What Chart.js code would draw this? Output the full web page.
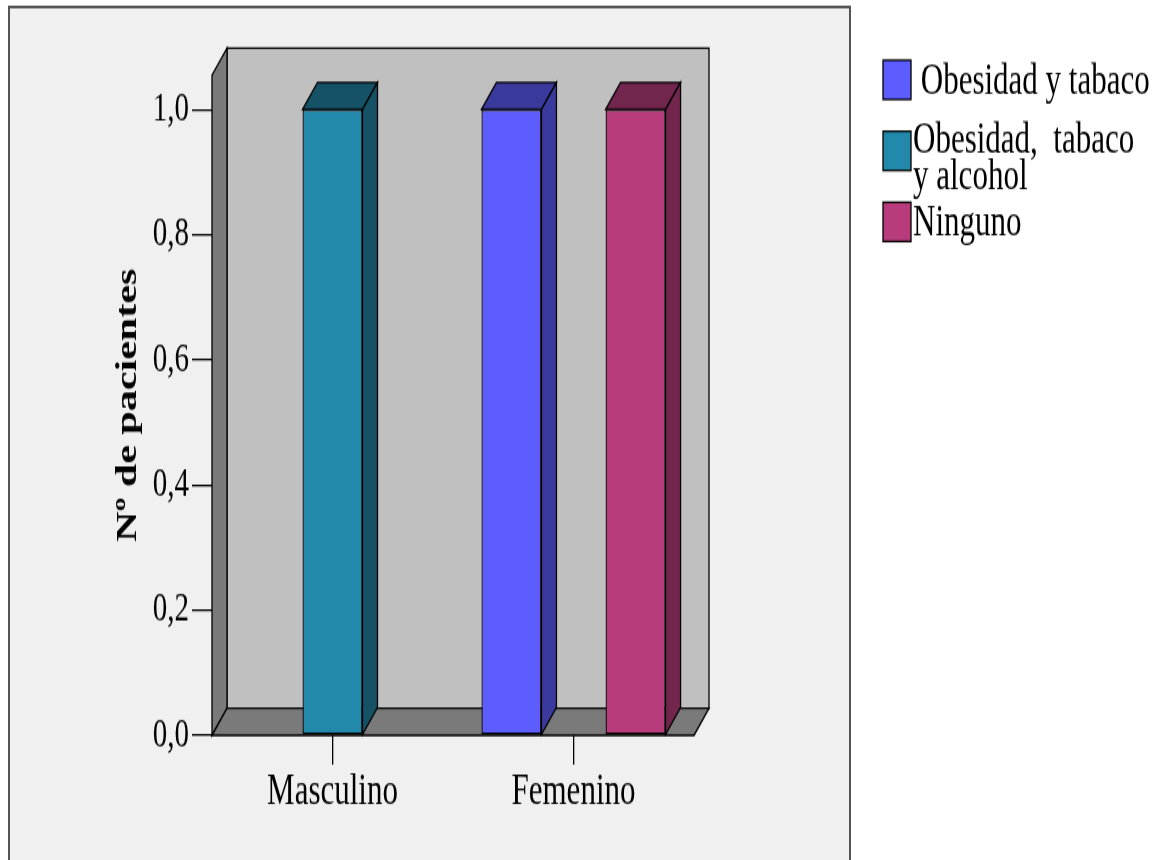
<!DOCTYPE html>
<html>
<head>
<meta charset="utf-8">
<script src="https://cdn.jsdelivr.net/npm/chart.js@4/dist/chart.umd.min.js"></script>
<style>
  html, body { margin: 0; padding: 0; background: #fff; }
  /* the drawing buffer is 614 px high and shown 860 px high: stretched vertically like the exported SPSS figure */
  #grafico { display: block; width: 1167px; height: 860px; }
</style>
</head>
<body>
<canvas id="grafico" width="1167" height="614" style="width:1167px;height:860px"></canvas>
<script>
// datos
const categorias = ['Masculino', 'Femenino'];
const obesidadTabaco = [null, 1];
const obesidadTabacoAlcohol = [1, null];
const ninguno = [null, 1];
const nombresSeries = [' Obesidad y tabaco', 'Obesidad,  tabaco\ny alcohol', 'Ninguno'];
const marcasY = [0, 0.2, 0.4, 0.6, 0.8, 1.0];

// estilo
const fuente = 'Liberation Serif';
const colorFrente = ['#5c5cff', '#2389aa', '#b83c7c'];
const colorLado = ['#3a3a9c', '#165266', '#72264e'];
const DX = 15, DY = 19.3;   // profundidad 3D

function poligono(ctx, pts, relleno) {
  ctx.beginPath();
  ctx.moveTo(pts[0][0], pts[0][1]);
  for (let i = 1; i < pts.length; i++) ctx.lineTo(pts[i][0], pts[i][1]);
  ctx.closePath();
  ctx.fillStyle = relleno;
  ctx.fill();
  ctx.stroke();
}

const caja3d = {
  id: 'caja3d',
  beforeDraw(chart) {
    const ctx = chart.ctx;
    ctx.save();
    ctx.fillStyle = '#fff';
    ctx.fillRect(0, 0, chart.width, chart.height);
    ctx.fillStyle = '#f0f0f0';
    ctx.fillRect(9, 5, 841, chart.height);
    ctx.strokeStyle = '#555';
    ctx.lineWidth = 2;
    ctx.strokeRect(9, 5, 841, chart.height + 10);
    ctx.restore();
  },
  beforeDatasetsDraw(chart) {
    const {ctx, chartArea: a} = chart;
    ctx.save();
    ctx.lineWidth = 1.3;
    ctx.strokeStyle = '#000';
    // pared del fondo
    poligono(ctx, [[a.left + DX, a.top - DY], [a.right + DX, a.top - DY],
                   [a.right + DX, a.bottom - DY], [a.left + DX, a.bottom - DY]], '#c0c0c0');
    // pared izquierda
    poligono(ctx, [[a.left, a.top], [a.left + DX, a.top - DY],
                   [a.left + DX, a.bottom - DY], [a.left, a.bottom]], '#7a7a7a');
    // suelo
    poligono(ctx, [[a.left, a.bottom], [a.left + DX, a.bottom - DY],
                   [a.right + DX, a.bottom - DY], [a.right, a.bottom]], '#7a7a7a');
    ctx.restore();
  },
  afterDatasetsDraw(chart) {
    const ctx = chart.ctx;
    ctx.save();
    ctx.lineWidth = 1.3;
    ctx.strokeStyle = '#000';
    chart.getSortedVisibleDatasetMetas().forEach(meta => {
      const ds = chart.data.datasets[meta.index];
      meta.data.forEach((barra, i) => {
        if (ds.data[i] === null) return;
        const {x, y, base, width} = barra.getProps(['x', 'y', 'base', 'width'], true);
        const l = x - width / 2, r = x + width / 2;
        // cara superior y lateral
        poligono(ctx, [[l, y], [l + DX, y - DY], [r + DX, y - DY], [r, y]], colorLado[meta.index]);
        poligono(ctx, [[r, y], [r + DX, y - DY], [r + DX, base - DY], [r, base]], colorLado[meta.index]);
      });
    });
    ctx.restore();
  },
  afterDraw(chart) {
    // leyenda a la derecha, fuera del marco
    const ctx = chart.ctx;
    ctx.save();
    ctx.font = '31px "' + fuente + '"';
    ctx.textBaseline = 'middle';
    ctx.lineWidth = 1.3;
    ctx.strokeStyle = '#000';
    chart.data.datasets.forEach((ds, i) => {
      const top = 43 + i * 50.7;
      ctx.fillStyle = ds.backgroundColor;
      ctx.fillRect(883, top, 28, 28);
      ctx.strokeRect(883, top, 28, 28);
      const lineas = ds.label.split('\n');
      const medio = top + 15.5 - (lineas.length - 1) * 8.5;
      ctx.fillStyle = '#000';
      lineas.forEach((t, j) => ctx.fillText(t, 913, medio + j * 26.5));
    });
    ctx.restore();
  }
};

const series = [obesidadTabaco, obesidadTabacoAlcohol, ninguno];

const config = {
  type: 'bar',
  data: {
    labels: categorias,
    datasets: series.map((d, i) => ({
      label: nombresSeries[i],
      data: d,
      backgroundColor: colorFrente[i],
      borderColor: '#000',
      borderWidth: 1.3,
      borderSkipped: false,
      skipNull: true,
      categoryPercentage: 1.03,
      barPercentage: 0.5,
      maxBarThickness: 60
    }))
  },
  options: {
    responsive: false,
    animation: false,
    devicePixelRatio: 1,
    layout: { padding: { left: 110, top: 53.6, right: 473, bottom: 0 } },
    plugins: { legend: { display: false }, tooltip: { enabled: false } },
    scales: {
      x: {
        offset: true,
        grid: { offset: false, drawOnChartArea: false, tickLength: 21, color: '#000', lineWidth: 1.3 },
        border: { display: false },
        ticks: { font: { family: fuente, size: 31 }, color: '#000', padding: 1 },
        afterFit: s => { s.height = 89; }
      },
      y: {
        min: 0,
        max: 1.055,
        afterBuildTicks: s => { s.ticks = marcasY.map(v => ({ value: v })); },
        grid: { drawOnChartArea: false, tickLength: 20, color: '#000', lineWidth: 1.3 },
        border: { display: false },
        ticks: {
          font: { family: fuente, size: 29 }, color: '#000', padding: 3,
          callback: v => v.toFixed(1).replace('.', ',')
        },
        title: {
          display: true, text: 'Nº de pacientes', color: '#000', padding: 0,
          font: { family: fuente, size: 30, weight: 'bold' }
        },
        afterFit: s => { s.width = 102; }
      }
    }
  },
  plugins: [caja3d]
};

new Chart(document.getElementById('grafico'), config);
</script>
</body>
</html>
